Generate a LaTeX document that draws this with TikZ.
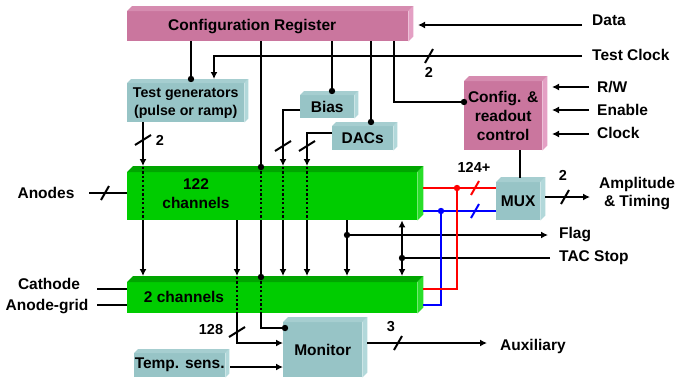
\documentclass[tikz,border=0pt]{standalone}
\usepackage{fontspec}
\setmainfont{Liberation Sans}
\usetikzlibrary{arrows.meta,calc}
\definecolor{pinkF}{RGB}{202,118,158}
\definecolor{pinkT}{RGB}{214,140,176}
\definecolor{pinkS}{RGB}{228,160,196}
\definecolor{tealF}{RGB}{151,196,198}
\definecolor{tealT}{RGB}{166,206,208}
\definecolor{tealS}{RGB}{178,216,218}
\definecolor{grnF}{RGB}{0,204,0}
\definecolor{grnT}{RGB}{0,165,0}
\definecolor{grnS}{RGB}{40,222,40}
\definecolor{myred}{RGB}{255,0,0}
\definecolor{myblue}{RGB}{0,0,255}
\newcommand{\threedbox}[4]{%
 \fill[#2] (#1.north west) -- ([shift={(#4,-#4)}]#1.north west) -- ([shift={(#4,-#4)}]#1.north east) -- (#1.north east) -- cycle;
 \fill[#3] (#1.north east) -- ([shift={(#4,-#4)}]#1.north east) -- ([shift={(#4,-#4)}]#1.south east) -- (#1.south east) -- cycle;}
\newcommand{\jdot}[2][black]{\fill[#1] #2 circle[radius=3.2pt];}
\newcommand{\slashH}[2][black]{\draw[slashmark,#1] ($#2+(-4,7)$) -- ($#2+(4,-7)$);}
\newcommand{\slashV}[2][black]{\draw[slashmark,#1] ($#2+(-8,5)$) -- ($#2+(8,-5)$);}
\tikzset{
 bx/.style={anchor=north west, inner sep=0pt, font=\bfseries\fontsize{15.5}{19}\selectfont, align=center},
 pinkbox/.style={bx, fill=pinkF},
 tealbox/.style={bx, fill=tealF},
 grnbox/.style={bx, fill=grnF},
 txt/.style={font=\bfseries\fontsize{15.5}{18}\selectfont, inner sep=0pt},
 num/.style={font=\bfseries\fontsize{14.5}{16}\selectfont, inner sep=0pt},
 ln/.style={line width=2.2pt},
 arr/.style={ln, -{Latex[length=7pt,width=7pt]}},
 darr/.style={ln, {Latex[length=7pt,width=7pt]}-{Latex[length=7pt,width=7pt]}},
 dotline/.style={line width=2.2pt, dash pattern=on 2.2pt off 2.2pt},
 redln/.style={line width=2.8pt, myred},
 blueln/.style={line width=2.8pt, myblue},
 slashmark/.style={line width=2pt},
}
\begin{document}
\begin{tikzpicture}[x=1pt,y=-1pt]
\useasboundingbox (0,0) rectangle (676,380);
\fill[white] (0,0) rectangle (676,380);

% ---------- boxes
\node[pinkbox, minimum width=281pt, minimum height=30pt] (cr) at (127,11) {\hspace*{-31pt}Configuration Register};
\threedbox{cr}{pinkT}{pinkS}{5}
\node[tealbox, minimum width=117pt, minimum height=39pt, font=\bfseries\fontsize{14.2}{18}\selectfont] (tg) at (127,83) {Test generators\\(pulse or ramp)};
\threedbox{tg}{tealT}{tealS}{4}
\node[tealbox, minimum width=54pt, minimum height=23pt] (bias) at (300,95) {Bias};
\threedbox{bias}{tealT}{tealS}{4}
\node[tealbox, minimum width=61pt, minimum height=24pt] (dacs) at (332,126) {DACs};
\threedbox{dacs}{tealT}{tealS}{4}
\node[pinkbox, minimum width=78pt, minimum height=69pt] (crc) at (464,81) {Config. \&\\readout\\control};
\threedbox{crc}{pinkT}{pinkS}{5}
\node[grnbox, minimum width=290pt, minimum height=48pt] (ch122) at (127,172) {};
\threedbox{ch122}{grnT}{grnS}{6}
\node[txt, align=center, font=\bfseries\fontsize{15.5}{19}\selectfont] (ch122t) at (196,193.5) {122\\channels};
\node[grnbox, minimum width=290pt, minimum height=31pt] (ch2) at (127,282) {};
\threedbox{ch2}{grnT}{grnS}{6}
\node[txt] (ch2t) at (184,297) {2 channels};
\node[tealbox, minimum width=44pt, minimum height=38pt] (mux) at (496,182) {MUX};
\threedbox{mux}{tealT}{tealS}{5}
\node[tealbox, minimum width=79pt, minimum height=55pt] (mon) at (283,322) {Monitor};
\threedbox{mon}{tealT}{tealS}{5}
\node[tealbox, minimum width=91pt, minimum height=24pt] (ts) at (134,353) {Temp. sens.};
\threedbox{ts}{tealT}{tealS}{4}

% ---------- outside labels
\node[txt, anchor=west] (data) at (592,20) {Data};
\node[txt, anchor=west] (tclk) at (592,55) {Test Clock};
\node[txt, anchor=west] (rw) at (597,87) {R/W};
\node[txt, anchor=west] (en) at (597,110) {Enable};
\node[txt, anchor=west] (clk) at (597,133) {Clock};
\node[txt, align=center] (amp) at (637,194) {Amplitude\\\& Timing};
\node[txt, anchor=west] (flag) at (559,235) {Flag};
\node[txt, anchor=west] (tac) at (559,258) {TAC Stop};
\node[txt, anchor=west] (aux) at (500,346) {Auxiliary};
\node[txt] (anodes) at (46,193) {Anodes};
\node[txt] (cath) at (49,284) {Cathode};
\node[txt] (agrid) at (47,307) {Anode-grid};
\node[num] (n2a) at (429,72) {2};
\node[num] (n2b) at (160,140) {2};
\node[num] (n124) at (474,167) {124+};
\node[num] (n2c) at (563,175) {2};
\node[num] (n128) at (211,330) {128};
\node[num] (n3) at (391,327) {3};

% ---------- free-end coordinates
\coordinate (dataE) at (582,25);
\coordinate (tclkE) at (582,56);
\coordinate (rwE) at (589,87);
\coordinate (enE) at (589,110);
\coordinate (clkE) at (589,134);
\coordinate (ampE) at (590,197);
\coordinate (flagE) at (548,235);
\coordinate (tacE) at (550,258);
\coordinate (auxE) at (487,343);
\coordinate (anodesE) at (89,193);
\coordinate (cathE) at (97,289);
\coordinate (agridE) at (97,305);

% ---------- configuration register outputs
\draw[ln] (cr.south -| 191,0) -- (191,79); \jdot{(191,79)}
\draw[ln] (cr.south -| 261,0) -- (261,167); \jdot{(261,167)}
\draw[dotline] (261,167) -- (261,220);
\draw[ln] (261,220) -- (261,277); \jdot{(261,277)}
\draw[dotline] (261,277) -- (261,313);
\draw[ln] (261,313) -- (261,328) -- (mon.west |- 0,328); \jdot{(285,328)}
\draw[ln] (cr.south -| 332,0) -- (332,91); \jdot{(332,91)}
\draw[ln] (cr.south -| 371,0) -- (371,122); \jdot{(371,122)}
\draw[ln] (cr.south -| 394,0) -- (394,102) -- (crc.west |- 0,102); \jdot{(crc.west |- 0,102)}

% ---------- inputs on the right
\draw[arr] (dataE) -- (418,25);
\draw[arr] (tclkE) -- (214,56) -- (214,79);
\slashH{(429,56)}
\draw[arr] (rwE) -- (552,87);
\draw[arr] (enE) -- (552,110);
\draw[arr] (clkE) -- (552,134);

% ---------- test generators
\draw[arr] (tg.south -| 143,0) -- (143,166);
\slashV{(143,140)}
\draw[dotline] (143,167) -- (143,220);
\draw[arr] (143,220) -- (143,276);

% ---------- bias and DACs
\draw[arr] (bias.west |- 0,110) -- (283,110) -- (283,166);
\slashV{(283,146)}
\draw[dotline] (283,167) -- (283,220);
\draw[arr] (283,220) -- (283,276);
\draw[arr] (dacs.west |- 0,133) -- (307,133) -- (307,166);
\slashV{(307,146)}
\draw[dotline] (307,167) -- (307,220);
\draw[arr] (307,220) -- (307,276);

% ---------- 128 to monitor
\draw[arr] (ch122.south -| 237,0) -- (237,276);
\draw[dotline] (237,277) -- (237,313);
\draw[arr] (ch2.south -| 237,0) -- (237,343) -- (mon.west |- 0,343);
\slashV{(237,332)}

% ---------- flag and TAC stop
\draw[arr] (ch122.south -| 347,0) -- (347,276);
\jdot{(347,235)}
\draw[arr] (347,235) -- (flagE);
\draw[darr] (ch122.south -| 402,0) -- (402,276);
\jdot{(402,258)}
\draw[ln] (tacE) -- (402,258);

% ---------- red and blue buses
\draw[blueln] (423,211) -- (mux.west |- 0,211);
\draw[blueln] (441,211) -- (441,305) -- (423,305);
\jdot[myblue]{(441,211)}
\slashH[myblue]{(475,211)}
\draw[redln] (423,188) -- (mux.west |- 0,188);
\draw[redln] (457,188) -- (457,289) -- (423,289);
\jdot[myred]{(457,188)}
\slashH[myred]{(475,188)}

% ---------- MUX
\draw[ln] (crc.south -| 520,0) -- (520,178);
\draw[arr] (545,197) -- (ampE);
\slashH{(565,197)}

% ---------- monitor
\draw[arr] (230,367) -- (mon.west |- 0,367);
\draw[arr] (367,343) -- (auxE);
\slashH{(398,343)}

% ---------- detector inputs
\draw[ln] (anodesE) -- (ch122.west |- 0,193);
\slashH{(105,193)}
\draw[ln] (cathE) -- (ch2.west |- 0,289);
\draw[ln] (agridE) -- (ch2.west |- 0,305);
\end{tikzpicture}
\end{document}
